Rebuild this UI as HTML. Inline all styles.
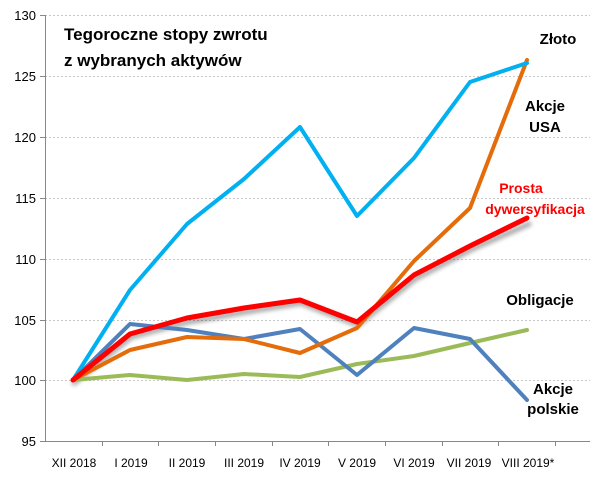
<!DOCTYPE html><html><head><style>body{margin:0;background:#fff}svg{display:block}text{font-family:"Liberation Sans",Arial,sans-serif}</style></head><body>
<svg width="602" height="477" viewBox="0 0 602 477">
<defs><filter id="sh" x="-10%" y="-10%" width="120%" height="130%"><feGaussianBlur stdDeviation="2"/></filter></defs>
<g stroke="#c8c8c8" stroke-width="1" stroke-dasharray="2,2">
<line x1="45" x2="590" y1="15.5" y2="15.5"/><line x1="45" x2="590" y1="76.5" y2="76.5"/><line x1="45" x2="590" y1="137.5" y2="137.5"/><line x1="45" x2="590" y1="198.5" y2="198.5"/><line x1="45" x2="590" y1="259.5" y2="259.5"/><line x1="45" x2="590" y1="320.5" y2="320.5"/><line x1="45" x2="590" y1="380.5" y2="380.5"/>
</g>
<g stroke="#888" stroke-width="1">
<line x1="45.5" y1="15" x2="45.5" y2="441"/><line x1="40" y1="441.5" x2="590" y2="441.5"/>
<line x1="40" x2="45" y1="15.5" y2="15.5"/><line x1="40" x2="45" y1="76.5" y2="76.5"/><line x1="40" x2="45" y1="137.5" y2="137.5"/><line x1="40" x2="45" y1="198.5" y2="198.5"/><line x1="40" x2="45" y1="259.5" y2="259.5"/><line x1="40" x2="45" y1="320.5" y2="320.5"/><line x1="40" x2="45" y1="380.5" y2="380.5"/>
<line x1="102.5" x2="102.5" y1="441" y2="446"/><line x1="158.5" x2="158.5" y1="441" y2="446"/><line x1="215.5" x2="215.5" y1="441" y2="446"/><line x1="272.5" x2="272.5" y1="441" y2="446"/><line x1="328.5" x2="328.5" y1="441" y2="446"/><line x1="385.5" x2="385.5" y1="441" y2="446"/><line x1="442.5" x2="442.5" y1="441" y2="446"/><line x1="498.5" x2="498.5" y1="441" y2="446"/><line x1="555.5" x2="555.5" y1="441" y2="446"/>
</g>
<g font-size="13" text-anchor="end" fill="#000">
<text x="36" y="20">130</text><text x="36" y="81">125</text><text x="36" y="142">120</text><text x="36" y="203">115</text><text x="36" y="264">110</text><text x="36" y="325">105</text><text x="36" y="385">100</text><text x="36" y="446">95</text>
</g>
<g font-size="12" text-anchor="middle" fill="#000">
<text x="74" y="467">XII 2018</text><text x="131" y="467">I 2019</text><text x="187" y="467">II 2019</text><text x="244" y="467">III 2019</text><text x="300" y="467">IV 2019</text><text x="357" y="467">V 2019</text><text x="414" y="467">VI 2019</text><text x="469" y="467">VII 2019</text><text x="528" y="467">VIII 2019*</text>
</g>
<g fill="none" stroke-linejoin="round" stroke-linecap="round">
<polyline stroke="#000" stroke-opacity="0.35" stroke-width="5" filter="url(#sh)" points="74,383 131,337 188,322 245,312 301,303 358,325 415,279 472,249 529,224"/>
<polyline stroke="#9bbb59" stroke-width="4" points="73,380 130,375 187,380 244,374 300,377 357,364 414,356 470,343 527,330"/>
<polyline stroke="#4f81bd" stroke-width="4" points="73,380 130,324 187,330 244,339 300,329 357,375 414,328 470,339 527,400"/>
<polyline stroke="#e46c0a" stroke-width="4" points="73,380 130,350 187,337 244,339 300,353 357,328 414,261 470,208 527,60"/>
<polyline stroke="#00b0f0" stroke-width="4" points="73,380 130,290 187,224 244,179 300,127 357,216 414,158 470,82 527,63"/>
<polyline stroke="#ff0000" stroke-width="5" points="73,380 130,334 187,318 244,308 300,300 357,322 414,275 470,246 527,218"/>
</g>
<g font-weight="bold" fill="#000" font-size="17">
<text x="64" y="40">Tegoroczne stopy zwrotu</text>
<text x="64" y="66">z wybranych aktywów</text>
</g>
<g font-weight="bold" font-size="15" text-anchor="middle">
<text x="558" y="44">Złoto</text>
<text x="545" y="111">Akcje</text><text x="545" y="132">USA</text>
<text x="540" y="305">Obligacje</text>
<text x="553" y="394">Akcje</text><text x="553" y="414">polskie</text>
<text x="521" y="193" fill="#ff0000" font-size="14">Prosta</text>
<text x="535" y="214" fill="#ff0000" font-size="14">dywersyfikacja</text>
</g>
</svg></body></html>
